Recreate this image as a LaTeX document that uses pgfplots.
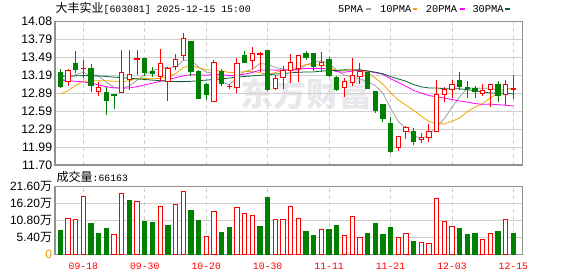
\documentclass[border=0pt]{standalone}
\usepackage{pgfplots}
\usepackage{pgfplotstable}
\pgfplotsset{compat=1.18}
\usepackage{fontspec}
\setmainfont{Liberation Sans}
\newfontfamily\cjk{Noto Sans CJK SC}
\newfontfamily\mono{Liberation Mono}
\definecolor{upred}{RGB}{255,0,0}
\definecolor{dngreen}{RGB}{0,128,0}
\definecolor{maA}{RGB}{160,160,160}
\definecolor{maB}{RGB}{240,165,0}
\definecolor{maC}{RGB}{255,0,255}
\definecolor{maD}{RGB}{0,100,50}
\definecolor{gridc}{RGB}{208,208,208}
\definecolor{framec}{RGB}{145,145,145}
\definecolor{wm}{RGB}{232,232,236}
\definecolor{zerocol}{RGB}{230,150,0}

\pgfdeclareplotmark{candle}{%
  \pgfpathmoveto{\pgfpoint{0pt}{\cLo pt}}%
  \pgfpathlineto{\pgfpoint{0pt}{\cHi pt}}%
  \pgfusepathqstroke
  \pgfpathrectangle{\pgfpoint{-2.15pt}{0pt}}{\pgfpoint{4.3pt}{\cBody pt}}%
  \pgfusepathqfillstroke
}
\def\K{60.2101}

\pgfplotstableread{
i o h l c
1 13.08 13.30 13.02 13.27
3 13.30 13.44 13.15 13.31
5 12.92 13.08 12.85 12.98
8 12.91 13.61 12.91 13.24
9 13.12 13.61 12.95 13.20
10 13.46 13.61 13.19 13.47
13 13.17 13.63 13.09 13.39
14 13.08 13.33 12.76 13.31
15 13.33 13.55 13.28 13.46
16 13.52 13.89 13.44 13.80
20 12.76 13.44 12.76 13.40
22 13.00 13.05 12.97 13.01
23 12.98 13.47 12.89 13.39
25 13.43 13.66 13.30 13.555
26 13.54 13.58 13.25 13.55
28 12.97 13.20 12.94 13.13
29 13.16 13.34 12.97 13.27
30 13.27 13.54 13.06 13.41
31 13.31 13.52 13.08 13.52
34 13.36 13.58 13.25 13.41
37 12.99 13.15 12.83 13.085
38 13.07 13.47 13.01 13.18
39 13.17 13.40 13.05 13.26
44 11.99 12.18 11.94 12.18
45 12.25 12.35 12.13 12.32
47 12.12 12.23 12.06 12.15
48 12.15 12.38 12.08 12.26
49 12.25 13.11 12.25 12.88
50 12.87 13.00 12.75 12.96
51 12.96 13.11 12.81 13.04
55 12.89 13.04 12.85 12.93
56 12.95 13.04 12.66 13.04
58 12.87 13.11 12.69 13.04
59 12.96 13.20 12.80 12.97
}\upcandles

\pgfplotstableread{
i o h l c
0 13.23 13.29 12.98 13.01
2 13.38 13.60 13.22 13.29
4 13.30 13.38 12.92 13.02
6 12.91 13.00 12.53 12.78
7 12.87 12.88 12.63 12.86
11 13.47 13.48 13.17 13.23
12 13.26 13.32 13.16 13.22
17 13.75 13.76 13.17 13.26
18 13.26 13.28 12.79 12.81
19 13.04 13.06 12.78 12.88
21 13.26 13.29 13.02 13.06
24 13.52 13.60 13.39 13.41
27 13.61 13.61 12.93 12.96
32 13.56 13.59 13.45 13.49
33 13.55 13.56 13.26 13.33
35 13.46 13.49 13.16 13.18
36 13.15 13.17 12.93 12.95
40 13.23 13.25 12.96 12.97
41 12.92 12.93 12.56 12.60
42 12.70 12.71 12.41 12.47
43 12.39 12.49 11.90 11.92
46 12.25 12.31 12.03 12.09
52 13.10 13.24 12.95 13.01
53 12.99 13.10 12.81 12.97
54 12.965 13.02 12.82 12.92
57 13.04 13.10 12.74 12.85
}\dncandles

\pgfplotstableread{
i a b c d
0 13.10 12.88 13.11 13.17
1 13.15 12.93 13.10 13.175
2 13.20 13.02 13.09 13.18
3 13.24 13.09 13.08 13.185
4 13.18 13.10 13.06 13.185
5 13.174 13.10 13.03 13.18
6 13.076 13.10 13.00 13.17
7 12.99 13.09 12.98 13.16
8 12.976 13.09 12.975 13.15
9 13.012 13.096 12.98 13.14
10 13.11 13.142 13.00 13.13
11 13.20 13.138 13.03 13.12
12 13.272 13.131 13.06 13.11
13 13.302 13.139 13.09 13.10
14 13.324 13.168 13.12 13.09
15 13.322 13.216 13.15 13.085
16 13.436 13.318 13.18 13.085
17 13.444 13.358 13.20 13.09
18 13.328 13.315 13.20 13.10
19 13.242 13.283 13.19 13.11
20 13.23 13.276 13.209 13.12
21 13.082 13.259 13.199 13.13
22 13.032 13.238 13.185 13.145
23 13.148 13.238 13.189 13.16
24 13.256 13.249 13.209 13.17
25 13.285 13.257 13.237 13.18
26 13.385 13.233 13.276 13.19
27 13.375 13.203 13.281 13.20
28 13.323 13.235 13.275 13.21
29 13.293 13.274 13.279 13.218
30 13.266 13.275 13.276 13.231
31 13.258 13.321 13.29 13.239
32 13.364 13.369 13.304 13.246
33 13.404 13.363 13.30 13.246
34 13.432 13.362 13.306 13.26
35 13.386 13.326 13.292 13.267
36 13.272 13.265 13.249 13.272
37 13.191 13.278 13.241 13.28
38 13.161 13.283 13.259 13.278
39 13.131 13.282 13.278 13.28
40 13.089 13.238 13.257 13.263
41 13.019 13.146 13.234 13.242
42 12.896 13.044 13.207 13.217
43 12.644 12.903 13.133 13.168
44 12.428 12.78 13.071 13.13
45 12.298 12.694 13.01 13.092
46 12.196 12.608 12.937 13.036
47 12.132 12.514 12.896 12.998
48 12.20 12.422 12.853 12.98
49 12.34 12.384 12.833 12.98
50 12.468 12.383 12.811 12.966
51 12.658 12.427 12.787 12.965
52 12.83 12.481 12.763 12.965
53 12.972 12.586 12.745 12.951
54 12.98 12.66 12.72 12.934
55 12.974 12.721 12.708 12.914
56 12.974 12.816 12.712 12.896
57 12.942 12.886 12.70 12.893
58 12.956 12.964 12.693 12.89
59 12.966 12.973 12.679 12.88
}\mas

\pgfplotstableread{
i v
1 11.59
2 11.27
3 18.44
7 6.43
8 19.39
10 16.86
13 15.28
15 15.91
16 20.02
19 5.80
20 13.70
23 14.96
24 13.07
25 12.43
28 11.17
29 11.17
30 15.28
31 11.48
34 8.01
37 6.11
38 12.12
39 5.48
44 5.48
45 6.74
47 3.90
48 3.58
49 17.81
50 10.54
51 8.96
55 4.85
56 6.74
58 11.17
}\upvol

\pgfplotstableread{
i v
0 7.80
4 10.01
5 6.85
6 8.43
9 17.28
11 10.64
12 10.33
14 9.38
17 14.12
18 10.96
21 7.16
22 8.75
26 9.06
27 18.23
32 7.48
33 6.22
35 8.11
36 9.38
40 6.85
41 10.01
42 6.53
43 8.75
46 4.32
52 8.43
53 6.53
54 6.85
57 7.48
59 6.62
}\dnvol

\begin{document}
\begin{tikzpicture}
\useasboundingbox (0,0) rectangle (578pt,276pt);
% watermark
\node[font=\cjk\bfseries\fontsize{33}{33}\selectfont, text=wm, inner sep=0pt] at (306pt,182.5pt) {东方财富};
% title
\node[anchor=base west, inner sep=0pt] at (55.5pt,263.5pt) {{\cjk\fontsize{12}{14}\selectfont 大丰实业}{\mono\fontsize{9.8}{12}\selectfont [603081] 2025-12-15 15:00}};
% legend
\node[anchor=base west, inner sep=0pt, font=\mono\fontsize{10.4}{12}\selectfont] at (338pt,263.3pt) {5PMA};
\fill[maA] (366pt,265.7pt) rectangle (371pt,268.4pt);
\node[anchor=base west, inner sep=0pt, font=\mono\fontsize{10.4}{12}\selectfont] at (380pt,263.3pt) {10PMA};
\fill[maB] (412.7pt,265.7pt) rectangle (417.4pt,268.4pt);
\node[anchor=base west, inner sep=0pt, font=\mono\fontsize{10.4}{12}\selectfont] at (425.7pt,263.3pt) {20PMA};
\fill[maC] (460pt,265.7pt) rectangle (464.7pt,268.4pt);
\node[anchor=base west, inner sep=0pt, font=\mono\fontsize{10.4}{12}\selectfont] at (472.3pt,263.3pt) {30PMA};
\fill[maD] (505.3pt,265.7pt) rectangle (510pt,268.4pt);
% volume caption
\node[anchor=base west, inner sep=0pt] at (56.5pt,94.5pt) {{\cjk\fontsize{12}{14}\selectfont 成交量}{\mono\fontsize{9.8}{12}\selectfont :66163}};

\begin{axis}[
  at={(55pt,111pt)}, anchor=south west,
  scale only axis, width=467.3pt, height=143.3pt,
  xmin=-0.69, xmax=60.16, ymin=11.70, ymax=14.08,
  enlargelimits=false, clip=true,
  axis line style={framec, line width=1.1pt},
  xtick={3,11,19,27,35,43,51,59}, xticklabels={},
  ytick={11.70,11.9975,12.295,12.5925,12.89,13.1875,13.485,13.7825,14.08},
  yticklabels={11.70,11.99,12.29,12.59,12.89,13.19,13.49,13.79,14.08},
  major tick length=0pt,
  xmajorgrids, ymajorgrids,
  x grid style={gridc, line width=0.9pt, dash pattern=on 4pt off 3pt},
  y grid style={gridc, line width=0.9pt},
  yticklabel style={font=\fontsize{12.3}{14}\selectfont, anchor=east, inner sep=0pt, xshift=-2.7pt, text=black},
]
\addplot[only marks, mark=candle, mark options={draw=upred, fill=white, line width=0.9pt},
  visualization depends on={(\thisrow{l}-\thisrow{o})*\K \as \cLo},
  visualization depends on={(\thisrow{h}-\thisrow{o})*\K \as \cHi},
  visualization depends on={(\thisrow{c}-\thisrow{o})*\K \as \cBody}]
  table[x=i,y=o]{\upcandles};
\addplot[only marks, mark=candle, mark options={draw=dngreen, fill=dngreen, line width=0.9pt},
  visualization depends on={(\thisrow{l}-\thisrow{o})*\K \as \cLo},
  visualization depends on={(\thisrow{h}-\thisrow{o})*\K \as \cHi},
  visualization depends on={(\thisrow{c}-\thisrow{o})*\K \as \cBody}]
  table[x=i,y=o]{\dncandles};
\addplot[maA, line width=0.8pt, mark=none] table[x=i,y=a]{\mas};
\addplot[maB, line width=0.8pt, mark=none] table[x=i,y=b]{\mas};
\addplot[maC, line width=0.8pt, mark=none] table[x=i,y=c]{\mas};
\addplot[maD, line width=0.8pt, mark=none] table[x=i,y=d]{\mas};
\end{axis}

\begin{axis}[
  at={(55pt,21.2pt)}, anchor=south west,
  scale only axis, width=467.3pt, height=68.3pt,
  xmin=-0.69, xmax=60.16, ymin=0, ymax=21.6,
  enlargelimits=false,
  ybar, bar width=4.3pt,
  axis line style={framec, line width=1.1pt},
  xtick={3,11,19,27,35,43,51,59},
  xticklabels={09-18,09-30,10-20,10-30,11-11,11-21,12-03,12-15},
  ytick={0,5.4,10.8,16.2,21.6},
  yticklabels={\textcolor{zerocol}{0},5.40{\cjk 万},10.80{\cjk 万},16.20{\cjk 万},21.60{\cjk 万}},
  major tick length=0pt,
  xmajorgrids, ymajorgrids,
  x grid style={gridc, line width=0.9pt, dash pattern=on 4pt off 3pt},
  y grid style={gridc, line width=0.9pt},
  yticklabel style={font=\fontsize{12}{14}\selectfont, anchor=east, inner sep=0pt, xshift=-2.7pt, text=black},
  xticklabel style={font=\mono\fontsize{9.8}{11}\selectfont, text=upred, anchor=north, inner sep=0pt, yshift=-8pt},
]
\addplot[bar shift=0pt, draw=upred, fill=white, line width=0.9pt] table[x=i,y=v]{\upvol};
\addplot[bar shift=0pt, draw=dngreen, fill=dngreen, line width=0.9pt] table[x=i,y=v]{\dnvol};
\end{axis}
\end{tikzpicture}
\end{document}
